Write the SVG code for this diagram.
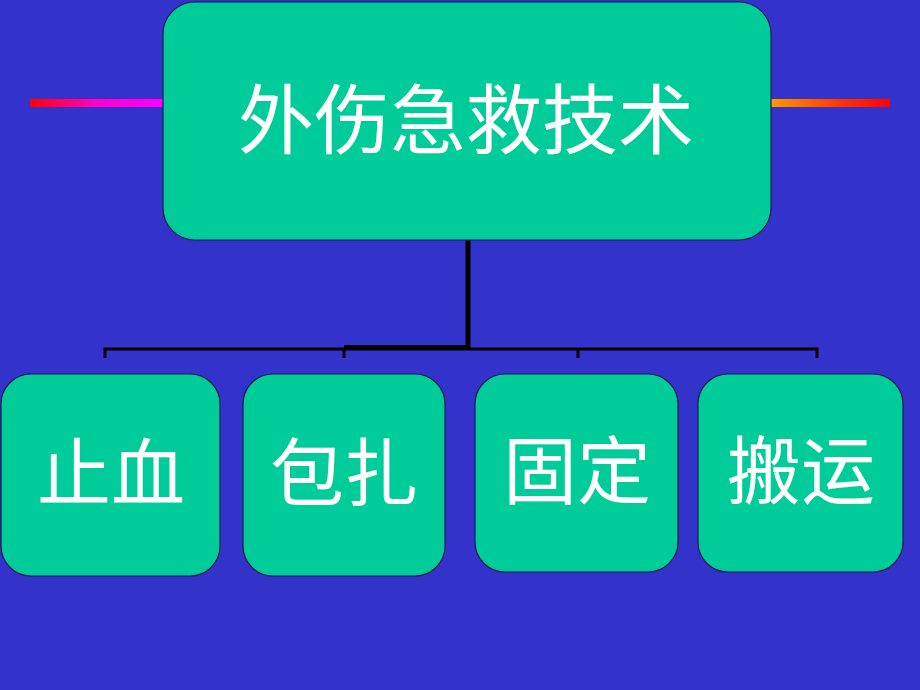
<svg xmlns="http://www.w3.org/2000/svg" width="920" height="690" viewBox="0 0 920 690">
<defs>
<linearGradient id="gl" x1="0" y1="0" x2="1" y2="0"><stop offset="0" stop-color="#FF0000"/><stop offset="0.5" stop-color="#FF00CC"/><stop offset="1" stop-color="#FF00FF"/></linearGradient>
<linearGradient id="gr" x1="0" y1="0" x2="1" y2="0"><stop offset="0" stop-color="#FF9900"/><stop offset="0.6" stop-color="#FF3300"/><stop offset="1" stop-color="#FF0000"/></linearGradient>
<style>
.box{fill:#00CC99;stroke:#1a1a4d;stroke-width:1.2}
.t{fill:#FFFFFF;font-family:"Noto Sans CJK SC","Noto Sans CJK TC",sans-serif;text-anchor:middle}
.c{stroke:#000000;fill:none;stroke-width:3}
.thick{stroke-width:5}
.mid{stroke-width:4}
</style>
</defs>
<rect width="920" height="690" fill="#3333CC"/>
<rect x="30" y="99" width="134" height="8" fill="url(#gl)"/>
<rect x="771" y="99" width="119" height="8" fill="url(#gr)"/>
<g id="connectors">
<line class="c thick" x1="468" y1="240" x2="468" y2="349"/>
<polyline class="c" points="105,358 105,349 817,349 817,358"/>
<line class="c mid" x1="344" y1="347" x2="468" y2="347"/>
<line class="c" x1="344" y1="349" x2="344" y2="358"/>
<line class="c" x1="578" y1="349" x2="578" y2="358"/>
</g>
<g id="root">
<rect class="box" x="163" y="2" width="608" height="238" rx="32"/>
<text class="t" x="466" y="148" font-size="76">外伤急救技术</text>
</g>
<g id="n1">
<rect class="box" x="1" y="374" width="219" height="202" rx="30"/>
<text class="t" x="111" y="500" font-size="74">止血</text>
</g>
<g id="n2">
<rect class="box" x="243" y="374" width="202" height="202" rx="30"/>
<text class="t" x="344" y="500" font-size="74">包扎</text>
</g>
<g id="n3">
<rect class="box" x="475" y="374" width="203" height="198" rx="30"/>
<text class="t" x="577" y="498" font-size="74">固定</text>
</g>
<g id="n4">
<rect class="box" x="698" y="374" width="205" height="198" rx="30"/>
<text class="t" x="801" y="498" font-size="74">搬运</text>
</g>
</svg>
